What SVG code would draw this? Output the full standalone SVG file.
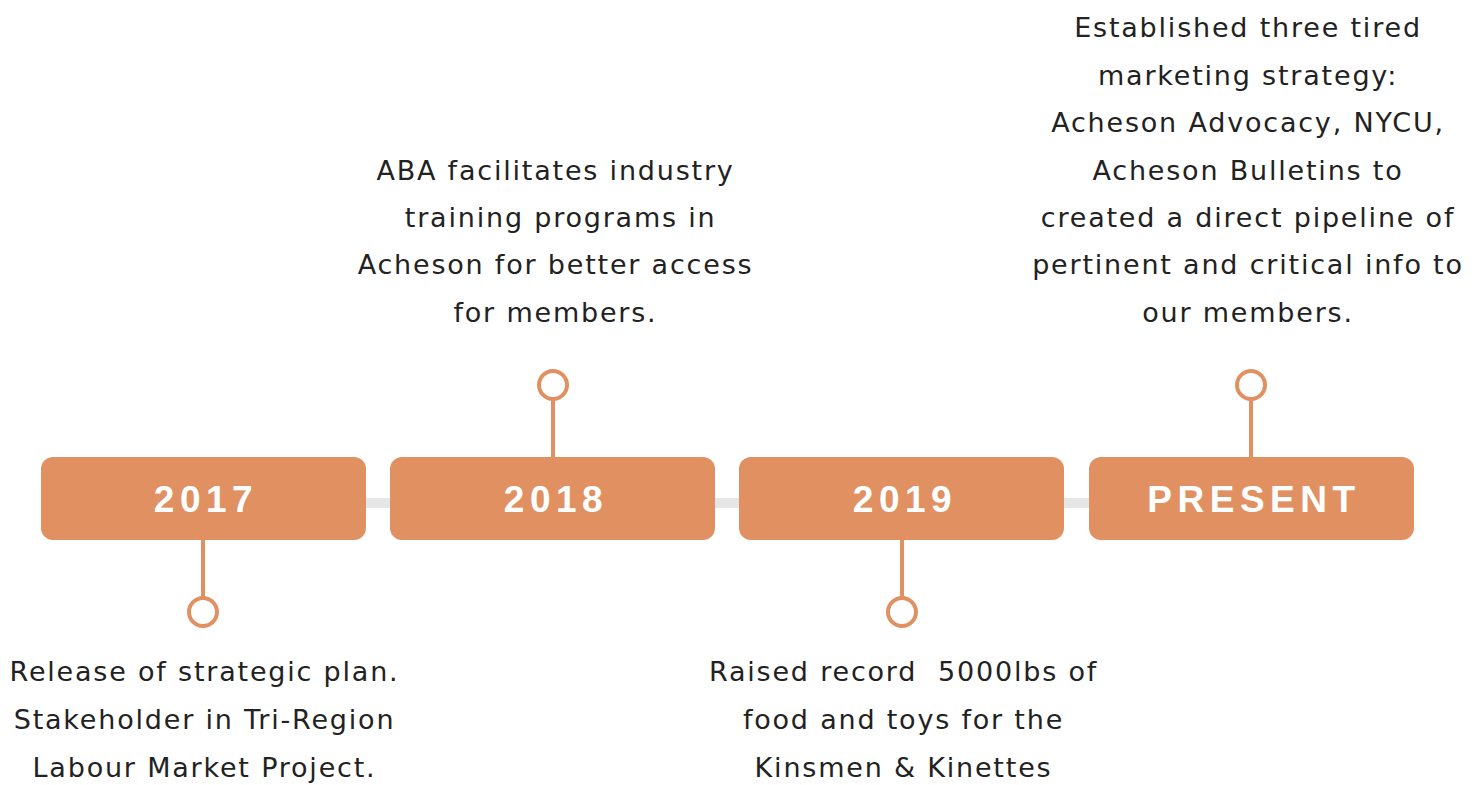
<svg xmlns="http://www.w3.org/2000/svg" width="1484" height="785" viewBox="0 0 1484 785">
<style>
.box{fill:#E19161}
.yr{font-family:"Liberation Sans",Arial,sans-serif;font-weight:bold;font-size:37px;fill:#fff;letter-spacing:5.5px;text-anchor:middle}
.txt{font-family:"DejaVu Sans",sans-serif;font-size:27px;fill:#222;letter-spacing:1.8px;text-anchor:middle;white-space:pre}
.stem{stroke:#E19161;stroke-width:4;fill:none}
.dot{stroke:#E19161;stroke-width:4;fill:#fff}
</style>
<rect width="1484" height="785" fill="#fff"/>
<g id="connectors">
<line x1="366" y1="503" x2="390" y2="503" stroke="#E6E6E6" stroke-width="10"/>
<line x1="715" y1="503" x2="739" y2="503" stroke="#E6E6E6" stroke-width="10"/>
<line x1="1064" y1="503" x2="1089" y2="503" stroke="#E6E6E6" stroke-width="10"/>
<line class="stem" x1="203" y1="540" x2="203" y2="598"/>
<line class="stem" x1="553" y1="399" x2="553" y2="457"/>
<line class="stem" x1="902" y1="540" x2="902" y2="598"/>
<line class="stem" x1="1251" y1="399" x2="1251" y2="457"/>
</g>
<g id="n2017">
<rect class="box" x="41" y="457" width="325" height="83" rx="12"/>
<text class="yr" x="206" y="512">2017</text>
<circle class="dot" cx="203" cy="612" r="14"/>
<text class="txt" x="204.5" y="681">Release of strategic plan.</text>
<text class="txt" x="204.5" y="729">Stakeholder in Tri-Region</text>
<text class="txt" x="204.5" y="777">Labour Market Project.</text>
</g>
<g id="n2018">
<rect class="box" x="390" y="457" width="325" height="83" rx="12"/>
<text class="yr" x="556" y="512">2018</text>
<circle class="dot" cx="553" cy="385" r="14"/>
<text class="txt" x="555.5" y="180">ABA facilitates industry</text>
<text class="txt" x="555.5" y="227"> training programs in</text>
<text class="txt" x="555.5" y="274">Acheson for better access</text>
<text class="txt" x="555.5" y="322">for members.</text>
</g>
<g id="n2019">
<rect class="box" x="739" y="457" width="325" height="83" rx="12"/>
<text class="yr" x="905" y="512">2019</text>
<circle class="dot" cx="902" cy="612" r="14"/>
<text class="txt" x="903.5" y="681">Raised record  5000lbs of</text>
<text class="txt" x="903.5" y="729">food and toys for the</text>
<text class="txt" x="903.5" y="777">Kinsmen &amp; Kinettes</text>
</g>
<g id="npresent">
<rect class="box" x="1089" y="457" width="325" height="83" rx="12"/>
<text class="yr" x="1254" y="512">PRESENT</text>
<circle class="dot" cx="1251" cy="385" r="14"/>
<text class="txt" x="1248" y="37">Established three tired</text>
<text class="txt" x="1248" y="85">marketing strategy:</text>
<text class="txt" x="1248" y="132">Acheson Advocacy, NYCU,</text>
<text class="txt" x="1248" y="180">Acheson Bulletins to</text>
<text class="txt" x="1248" y="227">created a direct pipeline of</text>
<text class="txt" x="1248" y="274">pertinent and critical info to</text>
<text class="txt" x="1248" y="322">our members.</text>
</g>
</svg>
